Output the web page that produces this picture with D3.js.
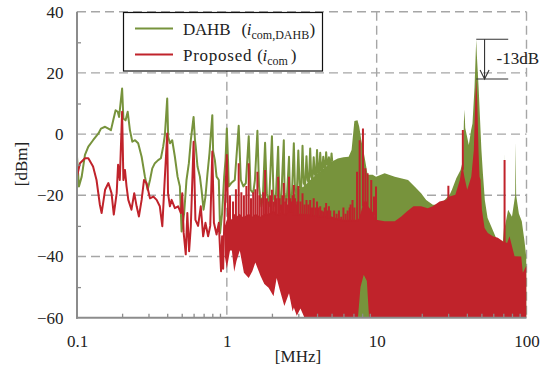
<!DOCTYPE html>
<html><head><meta charset="utf-8">
<script src="https://cdn.jsdelivr.net/npm/d3@7"></script>
<style>
html,body{margin:0;padding:0;background:#fff;}
svg{display:block;}
</style></head><body>
<svg id="chart" width="541" height="373"></svg>
<script>
const FONT = "'Liberation Serif','Times New Roman',serif";

// Axis ticks
const xTicks = [0.1, 1, 10, 100];
const xTickLabels = ["0.1", "1", "10", "100"];
const yTicks = [-60, -40, -20, 0, 20, 40];
const yMinorTicks = [-50, -30, -10, 10, 30];
const seriesNames = ["DAHB", "Proposed"];

// DAHB common-mode spectrum: resolved trace [MHz, dBm] (0.1–5 MHz)
const dahbTrace = [[0.1,-7.4],[0.103,-17.1],[0.1075,-13.9],[0.113,-6.8],[0.119,-4.1],[0.128,-2],[0.139,0.2],[0.1445,1.8],[0.154,2.4],[0.162,1.8],[0.1685,1.3],[0.1745,4.5],[0.181,7.8],[0.187,7.3],[0.191,5.6],[0.2,14.9],[0.204,5.1],[0.211,4.5],[0.218,7.3],[0.2255,1.3],[0.234,-2.5],[0.244,-2],[0.256,-3],[0.27,-7.4],[0.284,-13.9],[0.296,-18.2],[0.307,-15],[0.318,-11.2],[0.331,-9.5],[0.348,-8.5],[0.363,-7.9],[0.376,-4.1],[0.386,-0.3],[0.4,11.6],[0.406,-0.9],[0.417,-3],[0.432,-2],[0.45,-7.4],[0.469,-13.9],[0.486,-17.1],[0.499,-31.8],[0.519,-25.8],[0.538,-15],[0.558,-9.5],[0.575,-2],[0.6,5.6],[0.613,-2],[0.62,-4.1],[0.637,-10.6],[0.661,-13.9],[0.678,-18.2],[0.699,-24.7],[0.72,-20.4],[0.743,-12.8],[0.766,-6.3],[0.8,6.2],[0.81,-5.7],[0.832,-8.5],[0.854,-13.9],[0.884,-15],[0.902,-32.3],[0.93,-25.8],[0.96,-13.9],[0.98,-8.5],[1.0,1.8],[1.02,-9.5],[1.03,-17.1],[1.07,-16],[1.13,-15],[1.2,2.7],[1.24,-15],[1.29,-17.1],[1.34,-16],[1.4,-0.7],[1.44,-18.2],[1.5,-19.3],[1.54,-15],[1.6,1.1],[1.64,-17.1],[1.7,-23.6],[1.74,-20.4],[1.8,-2.8],[1.85,-19.3],[1.91,-23.6],[2.0,-0.7],[2.05,-20.4],[2.11,-23.6],[2.2,-4.1],[2.24,-20],[2.29,-24.7],[2.4,-2],[2.43,-19.3],[2.5,-23.6],[2.6,-7.4],[2.64,-20.4],[2.7,-24],[2.8,-3],[2.85,-18],[2.93,-20],[3.0,-5.4],[3.06,-17],[3.13,-19],[3.2,-3.8],[3.26,-16],[3.33,-17],[3.4,-7.2],[3.46,-15],[3.53,-16],[3.6,-4.7],[3.66,-14],[3.73,-15],[3.8,-7.6],[3.86,-13],[3.93,-14],[4.0,-5.2],[4.07,-13],[4.13,-13],[4.2,-6.1],[4.27,-12],[4.33,-12],[4.4,-7.4],[4.47,-11],[4.53,-11],[4.6,-5.9],[4.67,-10],[4.73,-10],[4.8,-7.6],[4.87,-10],[4.93,-10],[5.0,-6.3],[5.05,-9]];

// DAHB dense harmonic band [MHz, upper dBm, lower dBm]
const dahbBand = [[2.8,-20,-40],[3.0,-18,-48],[3.3,-17,-56],[3.6,-15,-60],[4.0,-13,-60],[4.5,-11,-60],[5.0,-9,-60],[5.5,-8,-60],[6.0,-7.6,-60],[6.5,-7.4,-60],[6.8,-5.2,-60],[7.1,4.3,-60],[7.45,4.5,-60],[7.65,2.4,-60],[7.9,-2,-60],[8.3,-7.4,-60],[8.7,-13.3,-60],[9.4,-13.3,-60],[9.9,-13.9,-60],[11.3,-12.8,-60],[13.2,-13.9,-60],[16.2,-15,-60],[17.9,-17.1,-60],[19.8,-19.3,-60],[21.4,-21.5,-60],[23.7,-23.1,-60],[26.3,-23.1,-60],[28.4,-21.5,-60],[30.7,-19.8,-60],[31.8,-18.2,-60],[34.0,-14.4,-60],[36.3,-11.7,-60],[37.7,-8.5,-60],[38.2,4,-60],[38.6,8,-60],[39.0,2,-60],[40.2,-1,-60],[41.2,-3.6,-60],[42.7,1.3,-60],[43.6,3.5,-60],[45.0,15.4,-60],[45.8,26,-60],[46.2,31,-60],[46.6,26,-60],[47.9,15.4,-60],[49.0,4.5,-60],[50.0,-5,-60],[51.2,-13,-60],[52.7,-21.5,-60],[55.0,-27.4,-60],[58.0,-30,-60],[62.0,-33.4,-60],[64.5,-35.6,-60],[69.0,-37,-60],[70.9,-30,-60],[71.4,-5.8,-60],[71.9,-30,-60],[75.4,-24.7,-60],[80.0,-27,-60],[84.0,-20,-60],[84.6,-2.5,-60],[85.3,-20,-60],[89.0,-26,-60],[93.0,-28.5,-60],[97.0,-35,-60],[100,-41,-60]];

// Proposed common-mode spectrum: resolved trace [MHz, dBm] (0.1–1 MHz)
const propTrace = [[0.1,-13.9],[0.1047,-9.5],[0.113,-7.9],[0.119,-7.9],[0.128,-10.6],[0.135,-15],[0.142,-23],[0.146,-25.8],[0.154,-18.2],[0.162,-16],[0.17,-19.3],[0.176,-26.3],[0.184,-19.3],[0.188,-10],[0.193,-15],[0.2,7.3],[0.204,-15],[0.209,-11.7],[0.214,-17],[0.22,-21.5],[0.231,-24.7],[0.241,-19.3],[0.25,-23.6],[0.259,-26.9],[0.27,-21.5],[0.28,-15],[0.291,-16],[0.307,-21],[0.323,-20.4],[0.34,-21.5],[0.357,-23.6],[0.371,-30.1],[0.383,-17],[0.4,0.2],[0.405,-19.3],[0.417,-23.6],[0.428,-21.5],[0.45,-24.2],[0.473,-23.6],[0.494,-25.8],[0.504,-19.3],[0.515,-32.2],[0.532,-39.3],[0.545,-25.8],[0.56,-38.3],[0.575,-30.1],[0.6,-2.5],[0.617,-28],[0.643,-30],[0.67,-23.6],[0.695,-33.4],[0.72,-29],[0.75,-33.4],[0.775,-30],[0.8,-5.7],[0.82,-29],[0.854,-32.8],[0.884,-29],[0.915,-44.8],[0.93,-33.4],[0.945,-44],[0.96,-30.1],[1.0,-6.8],[1.02,-28]];

// Proposed dense harmonic band [MHz, upper dBm, lower dBm]
const propBand = [[0.97,-30,-40],[1.0,-28,-44],[1.05,-27,-38],[1.08,-28,-38],[1.12,-26,-45],[1.16,-27,-41.5],[1.22,-26,-38],[1.27,-27,-42.6],[1.3,-27,-45.3],[1.4,-26,-47],[1.48,-27,-44.8],[1.55,-26,-42],[1.68,-27,-46.4],[1.78,-26,-49],[1.9,-26,-50.2],[2.05,-25,-53],[2.15,-26,-47],[2.25,-26,-50.7],[2.35,-25,-54],[2.42,-26,-56.2],[2.6,-25,-52],[2.75,-25,-58],[2.8,-26,-56.7],[2.93,-26,-59.4],[3.1,-26,-57],[3.3,-26,-60],[5.0,-27,-60],[6.0,-28,-60],[7.0,-28,-60],[7.5,-28,-60],[7.8,-26,-50],[8.2,-22,-46],[8.6,-22,-48],[8.9,-24,-60],[9.6,-26,-60],[9.9,-28,-60],[11.3,-28.5,-60],[13.2,-28.5,-60],[14.6,-26.9,-60],[15.9,-25.3,-60],[17.6,-23.6,-60],[19.8,-23.6,-60],[21.9,-24.2,-60],[23.7,-23.6,-60],[26.3,-22,-60],[29.0,-21.5,-60],[30.7,-20.4,-60],[33.5,-19.8,-60],[35.9,-15,-60],[37.3,-10,-60],[38.5,-14,-60],[40.2,-18.2,-60],[42.8,-13.9,-60],[44.5,-5.2,-60],[45.5,11,-60],[46.2,18,-60],[46.9,11,-60],[47.9,-6.3,-60],[48.6,-13.9,-60],[49.4,-15,-60],[50.4,-24.7,-60],[52.5,-30.7,-60],[55.2,-32.3,-60],[59.6,-33.4,-60],[64.4,-33.9,-60],[69.5,-35,-60],[74.3,-35.6,-60],[77.0,-33.4,-60],[83.2,-39.9,-60],[92.2,-40,-60],[94.5,-45.3,-60],[99.5,-43.1,-60],[100,-43,-60]];

// Proposed spikes rising out of the band [MHz, dBm]
const propSpikes = [[1.05,-20],[1.1,-22],[1.15,-18],[1.2,-9.5],[1.25,-19],[1.3,-20],[1.35,-17],[1.4,-9.5],[1.45,-21],[1.5,-19],[1.55,-18],[1.6,-12.3],[1.65,-20],[1.7,-21],[1.75,-19],[1.8,-11.7],[1.85,-21],[1.9,-22],[1.95,-20],[2.0,-18.2],[2.05,-22],[2.1,-20],[2.15,-21],[2.2,-13.9],[2.25,-21],[2.3,-23],[2.35,-20],[2.4,-16],[2.45,-22],[2.5,-21],[2.55,-23],[2.6,-13.9],[2.65,-21],[2.7,-22],[2.75,-20],[2.8,-16.6],[2.85,-21],[2.9,-23],[2.95,-22],[3.0,-17],[3.1,-22],[3.2,-19.3],[3.3,-23],[3.4,-21.5],[3.5,-23],[3.6,-21.5],[3.7,-24],[3.8,-21],[3.9,-24],[4.0,-22],[4.1,-24],[4.2,-23.6],[4.3,-25],[4.4,-25.3],[4.5,-24],[4.6,-22.5],[4.7,-25],[4.8,-23.6],[4.9,-25],[5.0,-27],[5.2,-25],[5.4,-26],[5.6,-25],[5.8,-27],[6.0,-24],[6.2,-26],[6.4,-25],[6.6,-24],[6.7,-23],[6.9,-21.5],[7.1,-24],[7.4,-12.3],[7.7,-2],[8.1,1.8],[8.4,-11.2],[8.7,-12.8],[9.2,-15],[9.6,-20.4],[9.9,-17.1],[30.1,-16.9],[37.6,1.3],[71.4,-8.5]];

const colors = {DAHB: "#77933c", Proposed: "#c0232b"};

const svg = d3.select("#chart").attr("font-family", FONT);
const x = d3.scaleLog().domain([0.1, 100]).range([77, 526.5]);
const y = d3.scaleLinear().domain([-60, 40]).range([317.7, 11.7]);
const [x0, x1] = x.range();
const [yBot, yTop] = y.range();

svg.append("defs").append("clipPath").attr("id", "plot")
  .append("rect").attr("x", x0).attr("y", yTop).attr("width", x1 - x0).attr("height", yBot - yTop);

// dashed grid
const grid = svg.append("g").attr("stroke", "#a6a6a6").attr("stroke-width", 1.4).attr("stroke-dasharray", "9,5");
grid.selectAll("line.h").data(yTicks.filter(v => v > -60)).join("line")
  .attr("x1", x0).attr("x2", x1).attr("y1", d => y(d)).attr("y2", d => y(d));
grid.selectAll("line.v").data(xTicks.filter(v => v > 0.1)).join("line")
  .attr("x1", d => x(d)).attr("x2", d => x(d)).attr("y1", yTop).attr("y2", yBot);

const plot = svg.append("g").attr("clip-path", "url(#plot)");
const line = d3.line().x(d => x(d[0])).y(d => y(d[1]));
const band = d3.area().x(d => x(d[0])).y0(d => y(d[2])).y1(d => y(d[1]));

// DAHB
plot.append("path").datum(dahbBand).attr("d", band).attr("fill", colors.DAHB);
plot.append("path").datum(dahbTrace).attr("d", line).attr("fill", "none")
  .attr("stroke", colors.DAHB).attr("stroke-width", 2).attr("stroke-linejoin", "round");

// Proposed
plot.append("path").datum(propBand).attr("d", band).attr("fill", colors.Proposed);
plot.append("path").datum(propTrace).attr("d", line).attr("fill", "none")
  .attr("stroke", colors.Proposed).attr("stroke-width", 2).attr("stroke-linejoin", "round");
const propTop = d3.scaleLog().domain(propBand.map(d => d[0])).range(propBand.map(d => d[1]));
plot.append("g").selectAll("line").data(propSpikes).join("line")
  .attr("x1", d => x(d[0])).attr("x2", d => x(d[0]))
  .attr("y1", d => y(propTop(d[0])) + 2).attr("y2", d => y(d[1]))
  .attr("stroke", colors.Proposed).attr("stroke-width", 2);

// axes
const axisColor = "#8c8c8c";
const minorX = d3.range(2, 10).flatMap(k => [0.1, 1, 10].map(m => k * m));
const gMinX = svg.append("g").attr("transform", `translate(0,${yBot})`)
  .call(d3.axisTop(x).tickValues(minorX).tickSize(4).tickFormat(""));
const gMinY = svg.append("g").attr("transform", `translate(${x0},0)`)
  .call(d3.axisRight(y).tickValues(yMinorTicks).tickSize(4).tickFormat(""));
[gMinX, gMinY].forEach(g => { g.select(".domain").remove(); g.selectAll("line").attr("stroke", axisColor).attr("stroke-width", 1.3); });

svg.append("line").attr("x1", x0).attr("x2", x0).attr("y1", yTop).attr("y2", yBot + 1)
  .attr("stroke", axisColor).attr("stroke-width", 2);
svg.append("line").attr("x1", x0 - 1).attr("x2", x1).attr("y1", yBot).attr("y2", yBot)
  .attr("stroke", axisColor).attr("stroke-width", 2);

const gx = svg.append("g").attr("transform", `translate(0,${yBot})`)
  .call(d3.axisBottom(x).tickValues(xTicks).tickFormat((d, i) => xTickLabels[i]).tickSize(0).tickPadding(17));
const gy = svg.append("g").attr("transform", `translate(${x0},0)`)
  .call(d3.axisLeft(y).tickValues(yTicks).tickFormat(d3.format("d")).tickSize(0).tickPadding(13.5));
[gx, gy].forEach(g => {
  g.attr("font-family", FONT).attr("font-size", 17);
  g.select(".domain").remove();
  g.selectAll("text").attr("font-family", FONT).attr("font-size", 17).attr("fill", "#222");
});

svg.append("text").attr("x", 298).attr("y", 362).attr("text-anchor", "middle")
  .attr("font-size", 17).attr("fill", "#222").text("[MHz]");
svg.append("text").attr("transform", "translate(27,164) rotate(-90)").attr("text-anchor", "middle")
  .attr("font-size", 17).attr("fill", "#222").text("[dBm]");

// legend
const leg = svg.append("g");
leg.append("rect").attr("x", 123.5).attr("y", 12.5).attr("width", 199).attr("height", 58.5)
  .attr("fill", "#fff").attr("stroke", "#111").attr("stroke-width", 1.2);
const legRows = [
  {name: seriesNames[0], width: 47.5, sub: "com,DAHB", y: 28.5, paren: 241.5, i: 246.8, s: 251.5, close: 309.5},
  {name: seriesNames[1], width: 68.5, sub: "com", y: 54.5, paren: 257.3, i: 262.5, s: 267.3, close: 290.8}
];
legRows.forEach(r => {
  leg.append("line").attr("x1", 135).attr("x2", 173).attr("y1", r.y).attr("y2", r.y)
    .attr("stroke", colors[r.name]).attr("stroke-width", 2.2);
  const t = leg.append("text").attr("y", r.y + 6.5).attr("font-size", 17).attr("fill", "#222");
  t.append("tspan").attr("x", 183).attr("textLength", r.width).attr("lengthAdjust", "spacing").text(r.name);
  t.append("tspan").attr("x", r.paren).text("(");
  t.append("tspan").attr("x", r.i).attr("font-style", "italic").text("i");
  t.append("tspan").attr("x", r.s).attr("dy", 4).attr("font-size", 12).text(r.sub);
  t.append("tspan").attr("x", r.close).attr("dy", -4).text(")");
});

// peak reduction annotation
const dahbPeak = d3.max(dahbBand, d => d[1]);
const propPeak = d3.max(propBand, d => d[1]);
const ann = svg.append("g").attr("stroke", "#333").attr("stroke-width", 1.1).attr("fill", "none");
const ax0 = x(46.2), ax1 = x(75.5), arrowX = x(52.5);
ann.append("line").attr("x1", ax0).attr("x2", ax1).attr("y1", y(dahbPeak)).attr("y2", y(dahbPeak));
ann.append("line").attr("x1", ax0).attr("x2", ax1).attr("y1", y(propPeak)).attr("y2", y(propPeak));
ann.append("line").attr("x1", arrowX).attr("x2", arrowX).attr("y1", y(dahbPeak)).attr("y2", y(propPeak));
ann.append("path").attr("d", `M${arrowX - 4.5},${y(propPeak) - 9}L${arrowX},${y(propPeak)}L${arrowX + 4.5},${y(propPeak) - 9}`);
svg.append("text").attr("x", 496.5).attr("y", 63.5).attr("font-size", 17).attr("fill", "#222")
  .text(`${Math.round(propPeak - dahbPeak)}dB`);
</script>
</body></html>
